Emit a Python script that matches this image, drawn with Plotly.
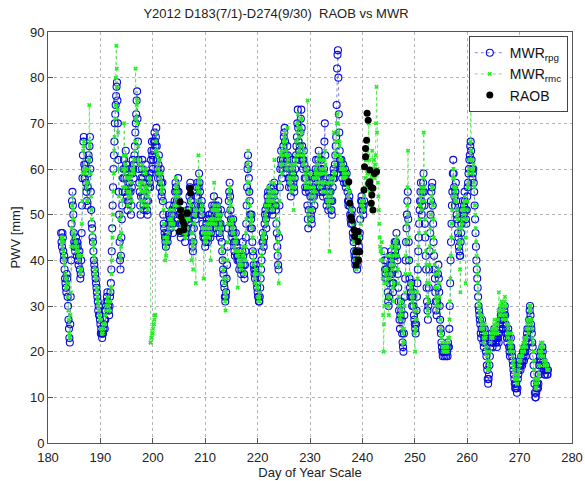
import numpy as np
import plotly.graph_objects as go

# both MWR series: 12 samples per day, rows start at day 182.5, 183.5, ...
start_day = 182.5
per_day = 12

# MWR rpg PWV [mm]
mwr_rpg = [
    46, 44, 43, 46, 45, 42, 40, 41, 38, 36, 35, 34,
    33, 37, 36, 32, 30, 27, 25, 23, 22, 26, 32, 40,
    48, 53, 55, 52, 50, 46, 44, 43, 42, 44, 45, 43,
    41, 44, 43, 40, 39, 41, 42, 38, 36, 37, 40, 46,
    52, 58, 63, 66, 67, 61, 58, 60, 61, 57, 55, 53,
    52, 56, 59, 63, 62, 65, 67, 60, 55, 51, 48, 47,
    45, 44, 42, 40, 39, 38, 37, 36, 35, 34, 33, 32,
    31, 29, 30, 28, 28, 27, 26, 24, 25, 24, 23, 24,
    24, 25, 26, 27, 25, 27, 29, 30, 31, 32, 33, 31,
    30, 29, 28, 30, 32, 33, 35, 38, 42, 47, 52, 56,
    60, 63, 66, 70, 72, 74, 76, 78, 79, 75, 70, 62,
    55, 50, 44, 40, 38, 41, 45, 49, 52, 55, 58, 60,
    62, 58, 55, 60, 64, 61, 58, 54, 51, 53, 57, 55,
    53, 57, 60, 55, 50, 52, 56, 59, 62, 60, 58, 61,
    63, 65, 68, 70, 72, 75, 77, 71, 66, 62, 60, 57,
    55, 52, 50, 54, 58, 60, 62, 58, 54, 52, 51, 54,
    57, 59, 61, 57, 53, 51, 50, 53, 56, 58, 59, 57,
    56, 59, 62, 64, 66, 63, 60, 62, 64, 66, 68, 66,
    65, 67, 69, 65, 62, 60, 58, 61, 63, 59, 56, 58,
    60, 57, 54, 55, 57, 53, 50, 48, 47, 46, 45, 44,
    43, 45, 46, 45, 44, 46, 48, 50, 52, 49, 47, 48,
    49, 50, 51, 48, 46, 48, 50, 52, 53, 55, 57, 56,
    55, 53, 51, 55, 58, 55, 53, 50, 48, 46, 45, 48,
    50, 48, 47, 50, 52, 50, 48, 46, 44, 46, 49, 47,
    46, 49, 51, 49, 48, 51, 54, 56, 57, 53, 50, 47,
    45, 43, 42, 44, 47, 50, 52, 50, 49, 52, 54, 56,
    57, 54, 52, 56, 59, 57, 55, 52, 50, 51, 53, 50,
    48, 46, 45, 46, 47, 45, 43, 44, 46, 48, 49, 46,
    44, 45, 47, 49, 50, 47, 45, 46, 48, 50, 52, 49,
    47, 51, 54, 52, 50, 48, 46, 49, 52, 50, 49, 51,
    53, 50, 48, 46, 45, 48, 51, 47, 44, 42, 40, 38,
    37, 35, 34, 32, 31, 32, 33, 36, 39, 43, 47, 50,
    53, 55, 57, 54, 51, 49, 48, 46, 45, 47, 49, 46,
    44, 42, 41, 44, 46, 44, 43, 41, 40, 41, 42, 40,
    38, 40, 41, 39, 37, 38, 40, 42, 44, 41, 39, 37,
    36, 39, 42, 45, 48, 52, 56, 60, 63, 61, 58, 55,
    53, 50, 47, 49, 50, 47, 44, 42, 41, 39, 38, 37,
    36, 38, 39, 37, 35, 34, 33, 32, 32, 31, 31, 32,
    34, 36, 38, 40, 42, 44, 46, 44, 43, 45, 48, 50,
    51, 49, 47, 50, 52, 54, 55, 53, 51, 52, 53, 55,
    56, 54, 52, 51, 50, 52, 54, 56, 57, 55, 53, 52,
    51, 48, 46, 43, 41, 39, 38, 45, 52, 56, 60, 62,
    64, 61, 58, 60, 62, 65, 67, 68, 69, 66, 63, 61,
    59, 62, 65, 63, 61, 58, 56, 58, 60, 57, 54, 56,
    58, 60, 62, 59, 57, 56, 55, 58, 60, 62, 63, 65,
    67, 70, 73, 69, 66, 64, 62, 65, 68, 71, 73, 69,
    65, 62, 60, 62, 64, 61, 58, 56, 55, 58, 60, 56,
    52, 49, 47, 51, 55, 57, 59, 54, 50, 49, 48, 51,
    54, 56, 57, 54, 52, 55, 58, 60, 62, 59, 56, 58,
    60, 62, 64, 59, 55, 56, 58, 60, 62, 59, 56, 55,
    54, 57, 60, 66, 70, 63, 58, 55, 52, 54, 56, 53,
    51, 53, 55, 57, 58, 55, 53, 51, 50, 53, 56, 58,
    60, 59, 58, 61, 63, 65, 67, 74, 82, 85, 86, 80,
    72, 68, 64, 62, 60, 61, 62, 60, 58, 60, 61, 59,
    57, 59, 60, 58, 56, 57, 59, 57, 55, 53, 52, 53,
    54, 52, 50, 49, 48, 50, 51, 48, 46, 45, 44, 42,
    41, 40, 39, 41, 42, 40, 38, 39, 40, 42, 43, 45,
    46, 49, 51, 53, 54, 53, 52, 51, 50, 52, 53, None,
    None, None, None, None, None, None, None, None, None, None, None, None,
    None, None, None, None, None, None, None, None, None, None, None, None,
    None, None, None, None, None, None, None, None, None, None, None, None,
    None, None, None, None, None, None, None, None, 42, 40, 38, 37,
    36, 38, 40, 36, 33, 31, 30, 32, 35, 37, 39, 41,
    42, 39, 37, 35, 33, 35, 38, 41, 44, 42, 41, 44,
    46, 43, 40, 37, 34, 31, 29, 27, 25, 28, 31, 29,
    27, 24, 22, 21, 20, 24, 28, 32, 36, 40, 44, 47,
    50, 53, 55, 49, 44, 40, 36, 34, 32, 33, 35, 32,
    30, 32, 33, 30, 28, 27, 26, 25, 24, 26, 29, 32,
    35, 38, 42, 45, 48, 51, 53, 55, 57, 53, 50, 52,
    55, 57, 59, 55, 52, 48, 45, 41, 38, 34, 31, 29,
    27, 30, 34, 38, 42, 46, 50, 53, 55, 56, 57, 52,
    48, 44, 41, 38, 36, 33, 31, 29, 28, 31, 34, 37,
    39, 36, 33, 30, 27, 25, 24, 22, 21, 20, 19, 20,
    20, 21, 19, 20, 21, 20, 19, 21, 20, 19, 22, 21,
    21, 25, 30, 35, 40, 44, 48, 52, 55, 59, 62, 59,
    56, 54, 52, 55, 57, 53, 50, 49, 48, 46, 45, 43,
    42, 41, 41, 44, 46, 48, 49, 51, 53, 51, 50, 52,
    55, 53, 51, 49, 48, 51, 54, 56, 57, 59, 60, 62,
    63, 65, 66, 64, 62, 60, 58, 59, 60, 57, 55, 52,
    49, 46, 43, 40, 38, 36, 34, 32, 30, 29, 28, 27,
    26, 24, 23, 25, 27, 25, 24, 22, 21, 23, 25, 23,
    22, 20, 19, 17, 16, 14, 13, 14, 15, 17, 19, 21,
    22, 23, 24, 22, 21, 22, 23, 24, 25, 23, 22, 23,
    23, 22, 21, 23, 24, 23, 22, 24, 25, 26, 27, 28,
    29, 28, 27, 26, 25, 27, 28, 29, 30, 28, 26, 25,
    24, 23, 22, 24, 25, 23, 21, 20, 19, 21, 23, 21,
    20, 19, 18, 17, 16, 15, 14, 13, 12, 12, 13, 12,
    11, 12, 14, 15, 16, 17, 18, 17, 16, 17, 19, 18,
    17, 18, 20, 19, 18, 20, 21, 20, 19, 21, 23, 24,
    25, 23, 22, 25, 27, 29, 30, 28, 26, 25, 24, 22,
    21, 19, 17, 15, 13, 11, 10, 10, 11, 12, 13, 12,
    12, 13, 15, 17, 18, 19, 20, 18, 17, 19, 21, 20,
    18, 17, 16, 15, 15, 16, 17, 16, 16, 15, 15, 16,
]

# MWR rmc PWV [mm], samples offset by half a step from rpg
mwr_rmc = [
    45, 44, 43, 45, 44, 42, 41, 40, 39, 37, 36, 34,
    34, 36, 35, 32, 29, 27, 24, 23, 23, 28, 33, 43,
    47, 52, 54, 51, 49, 46, 45, 43, 43, 44, 44, 42,
    42, 43, 42, 41, 40, 41, 41, 38, 37, 38, 41, 48,
    53, 59, 64, 65, 66, 60, 59, 60, 60, 57, 56, 53,
    53, 57, 60, 62, 74, 65, 66, 59, 54, 51, 49, 46,
    46, 44, 43, 41, 40, 38, 37, 36, 36, 34, 33, 32,
    31, 30, 29, 28, 28, 27, 27, 25, 25, 24, 24, 24,
    25, 26, 26, 26, 26, 28, 29, 30, 30, 31, 32, 31,
    30, 29, 29, 31, 31, 33, 34, 37, 40, 45, 50, 55,
    59, 64, 67, 71, 74, 80, 87, 82, 78, 73, 68, 60,
    54, 49, 45, 41, 40, 43, 46, 50, 53, 56, 60, 63,
    70, 59, 56, 61, 63, 60, 58, 55, 52, 54, 58, 55,
    54, 58, 59, 54, 51, 53, 57, 60, 61, 60, 59, 62,
    64, 66, 82, 71, 71, 74, 75, 70, 65, 62, 61, 57,
    56, 53, 51, 55, 57, 60, 61, 57, 55, 53, 52, 55,
    56, 59, 60, 56, 54, 52, 51, 54, 55, 58, 58, 57,
    22, 22, 23, 23, 24, 24, 25, 26, 26, 27, 28, 28,
    64, 66, 68, 64, 63, 60, 59, 61, 62, 59, 57, 58,
    59, 57, 55, 56, 56, 53, 51, 48, 45, 44, 40, 43,
    41, 44, 45, 45, 44, 46, 47, 49, 51, 49, 48, 48,
    48, 49, 50, 48, 47, 48, 51, 52, 54, 55, 58, 56,
    54, 53, 52, 55, 57, 54, 52, 50, 49, 47, 46, 48,
    50, 49, 48, 50, 51, 49, 47, 46, 45, 46, 48, 47,
    47, 49, 50, 49, 49, 51, 53, 55, 56, 52, 40, 46,
    46, 43, 38, 44, 48, 50, 51, 50, 35, 51, 53, 56,
    56, 55, 63, 57, 58, 57, 55, 53, 51, 51, 52, 50,
    47, 46, 36, 46, 47, 45, 44, 44, 45, 47, 48, 46,
    45, 45, 46, 48, 49, 47, 40, 46, 48, 49, 51, 49,
    48, 51, 57, 52, 51, 48, 47, 49, 51, 50, 50, 51,
    52, 50, 49, 47, 46, 48, 50, 47, 43, 42, 40, 38,
    36, 35, 33, 31, 29, 32, 33, 36, 40, 44, 48, 51,
    53, 55, 56, 54, 52, 49, 48, 47, 46, 47, 49, 46,
    44, 43, 42, 44, 45, 44, 42, 41, 34, 41, 42, 40,
    39, 40, 40, 39, 38, 39, 41, 42, 43, 41, 40, 37,
    37, 40, 43, 46, 49, 53, 57, 61, 64, 60, 57, 55,
    52, 50, 48, 49, 50, 47, 45, 42, 40, 39, 36, 37,
    35, 37, 38, 37, 34, 34, 32, 32, 31, 31, 32, 33,
    35, 37, 39, 41, 43, 45, 46, 45, 44, 46, 49, 50,
    52, 49, 48, 51, 53, 54, 56, 53, 52, 52, 54, 55,
    57, 54, 53, 51, 51, 53, 55, 57, 62, 55, 54, 52,
    52, 49, 47, 44, 42, 39, 35, 46, 53, 57, 61, 63,
    64, 61, 59, 61, 63, 65, 66, 67, 68, 66, 64, 61,
    60, 63, 69, 63, 62, 58, 57, 58, 61, 57, 55, 56,
    58, 60, 61, 59, 51, 56, 56, 58, 61, 62, 63, 66,
    68, 70, 72, 69, 67, 64, 63, 65, 69, 71, 71, 68,
    65, 62, 61, 63, 64, 61, 59, 57, 56, 58, 60, 56,
    75, 50, 48, 51, 56, 57, 59, 54, 51, 49, 49, 51,
    55, 56, 58, 54, 53, 55, 59, 60, 61, 59, 57, 58,
    61, 62, 63, 59, 56, 57, 59, 60, 62, 59, 57, 55,
    55, 57, 60, 62, 64, 61, 59, 55, 53, 54, 57, 53,
    52, 53, 42, 57, 58, 55, 54, 51, 51, 53, 57, 58,
    68, 59, 59, 61, 63, 64, 66, 70, 72, 70, 68, 66,
    66, 65, 63, 62, 60, 61, 62, 60, 58, 60, 61, 59,
    58, 59, 60, 58, 57, 58, 59, 57, 56, 54, 53, 53,
    55, 52, 51, 49, 49, 50, 51, 48, 46, 45, 44, 42,
    42, 40, 40, 40, 38, 39, 39, 40, 41, 42, 44, 45,
    46, 48, 50, 52, 53, 53, 52, 51, 51, 53, 54, 56,
    58, 62, 66, 64, 62, 59, 57, 63, 70, 62, 55, 57,
    60, 56, 52, 58, 64, 60, 56, 59, 62, 60, 58, 61,
    63, 70, 78, 68, 60, 57, 54, 51, 48, 45, 43, 42,
    40, 42, 44, 40, 36, 28, 20, 26, 30, 35, 38, 37,
    35, 38, 41, 36, 32, 30, 28, 32, 36, 37, 39, 41,
    43, 40, 38, 34, 31, 35, 39, 41, 44, 43, 42, 44,
    45, 43, 41, 38, 35, 32, 30, 28, 27, 29, 31, 29,
    28, 25, 24, 22, 22, 25, 30, 33, 37, 41, 44, 48,
    52, 56, 64, 50, 45, 40, 37, 35, 33, 34, 35, 32,
    31, 32, 33, 30, 29, 24, 20, 25, 25, 27, 29, 33,
    36, 39, 43, 46, 49, 52, 54, 55, 56, 53, 51, 53,
    55, 58, 68, 56, 53, 49, 46, 42, 39, 35, 32, 29,
    28, 31, 35, 39, 43, 47, 50, 53, 54, 56, 56, 52,
    49, 45, 42, 39, 37, 34, 32, 30, 29, 31, 34, 37,
    38, 35, 32, 30, 27, 25, 24, 23, 22, 21, 20, 21,
    21, 21, 20, 21, 22, 21, 20, 21, 21, 20, 23, 22,
    23, 27, 31, 36, 41, 45, 48, 51, 54, 58, 60, 58,
    56, 54, 53, 55, 56, 53, 51, 50, 49, 47, 46, 44,
    43, 38, 33, 44, 47, 48, 49, 51, 52, 51, 50, 53,
    54, 45, 35, 49, 49, 51, 53, 56, 57, 59, 60, 62,
    62, 66, 74, 64, 62, 60, 59, 60, 61, 57, 56, 52,
    50, 47, 44, 41, 39, 37, 35, 33, 31, 30, 29, 28,
    27, 25, 25, 26, 28, 26, 25, 23, 22, 24, 26, 24,
    23, 21, 20, 19, 18, 16, 16, 16, 17, 18, 20, 22,
    23, 24, 25, 23, 23, 24, 25, 26, 27, 25, 24, 24,
    26, 25, 24, 26, 27, 29, 33, 29, 28, 28, 29, 30,
    31, 30, 29, 28, 27, 29, 30, 31, 32, 30, 28, 27,
    26, 24, 23, 25, 26, 24, 22, 21, 20, 22, 24, 22,
    21, 20, 19, 18, 17, 16, 15, 14, 14, 14, 15, 13,
    13, 14, 15, 16, 17, 18, 19, 19, 18, 19, 21, 20,
    19, 20, 22, 21, 20, 22, 23, 22, 21, 23, 25, 26,
    27, 25, 24, 27, 29, 30, 30, 29, 27, 26, 25, 23,
    22, 20, 18, 16, 14, 13, 12, 12, 12, 13, 14, 14,
    14, 15, 17, 19, 20, 21, 22, 20, 19, 21, 22, 21,
    19, 18, 17, 17, 17, 18, 18, 17, 17, 16, 16, 16,
]

# RAOB soundings
raob_day = [205.1, 205.2, 205.3, 205.4, 205.7, 205.9, 206.0, 206.5, 206.6, 207.1, 207.2,
            237.4, 237.6, 237.8, 238.0, 238.4, 238.5, 238.8, 238.8, 238.8, 239.2, 239.2,
            239.2, 239.5, 240.3, 240.4, 240.6, 240.6, 240.8, 240.9, 241.1, 241.2, 241.4,
            241.4, 241.6, 241.7, 241.8, 242.0, 242.0, 242.3, 242.7]
raob_pwv = [46.3, 52.8, 51.0, 49.6, 48.5, 46.7, 47.8, 50.4, 50.3, 55.8, 54.7,
            57.2, 52.5, 49.5, 48.8, 46.7, 45.2, 46.3, 41.9, 39.0, 46.3, 44.1,
            40.1, 41.9, 55.4, 60.5, 62.7, 64.5, 66.3, 72.2, 70.7, 56.8, 59.8,
            57.2, 56.1, 52.5, 54.3, 55.8, 51.0, 59.0, 59.4]

x_ticks = [180, 190, 200, 210, 220, 230, 240, 250, 260, 270, 280]
y_ticks = [0, 10, 20, 30, 40, 50, 60, 70, 80, 90]

t_rpg = start_day + np.arange(len(mwr_rpg)) / per_day
t_rmc = start_day + 0.5 / per_day + np.arange(len(mwr_rmc)) / per_day

BLUE = "#0a0ae0"
GREEN = "#22ee22"
FONT = "Liberation Sans, Arial"

fig = go.Figure()
fig.add_trace(go.Scatter(
    x=t_rpg, y=mwr_rpg, mode="lines+markers", name="MWR<sub>rpg</sub>",
    line=dict(color="rgba(30,30,200,0.55)", width=1, dash="dot"),
    marker=dict(symbol="circle-open", size=7, color=BLUE, line=dict(width=1.1, color=BLUE)),
))
fig.add_trace(go.Scatter(
    x=t_rmc, y=mwr_rmc, mode="lines+markers", name="MWR<sub>rmc</sub>",
    line=dict(color="rgba(50,220,50,0.7)", width=1, dash="dot"),
    marker=dict(symbol="x", size=4, color=GREEN),
))
fig.add_trace(go.Scatter(
    x=raob_day, y=raob_pwv, mode="markers", name="RAOB",
    marker=dict(symbol="circle", size=7, color="black"),
))

axis_common = dict(
    showline=True, linecolor="#555555", linewidth=1, mirror=True,
    ticks="inside", ticklen=5, tickcolor="#555555", automargin=False,
    showgrid=True, gridcolor="#b4b4b4", griddash="dot", gridwidth=1,
    zeroline=False, tickfont=dict(family=FONT, size=13, color="#222"),
    title_font=dict(family=FONT, size=13, color="#222"),
)

fig.update_layout(
    width=585, height=481,
    margin=dict(l=48, r=13, t=32, b=38),
    paper_bgcolor="white", plot_bgcolor="white",
    title=dict(text="Y2012 D183(7/1)-D274(9/30)  RAOB vs MWR",
               x=276 / 585, xanchor="center", y=1 - 13 / 481, yanchor="middle",
               font=dict(family=FONT, size=13, color="#222")),
    xaxis=dict(range=[180, 280], tickvals=x_ticks, ticklabelstandoff=2,
               title=dict(text="Day of Year Scale", standoff=1), **axis_common),
    yaxis=dict(range=[0, 90], tickvals=y_ticks,
               title=dict(text="PWV [mm]", standoff=6), **axis_common),
    legend=dict(x=0.992, xanchor="right", y=0.99, yanchor="top",
                bgcolor="white", bordercolor="#444", borderwidth=1,
                font=dict(family=FONT, size=14, color="#111"),
                itemwidth=30, tracegroupgap=0),
    showlegend=True,
)

fig.write_html("out.html")
